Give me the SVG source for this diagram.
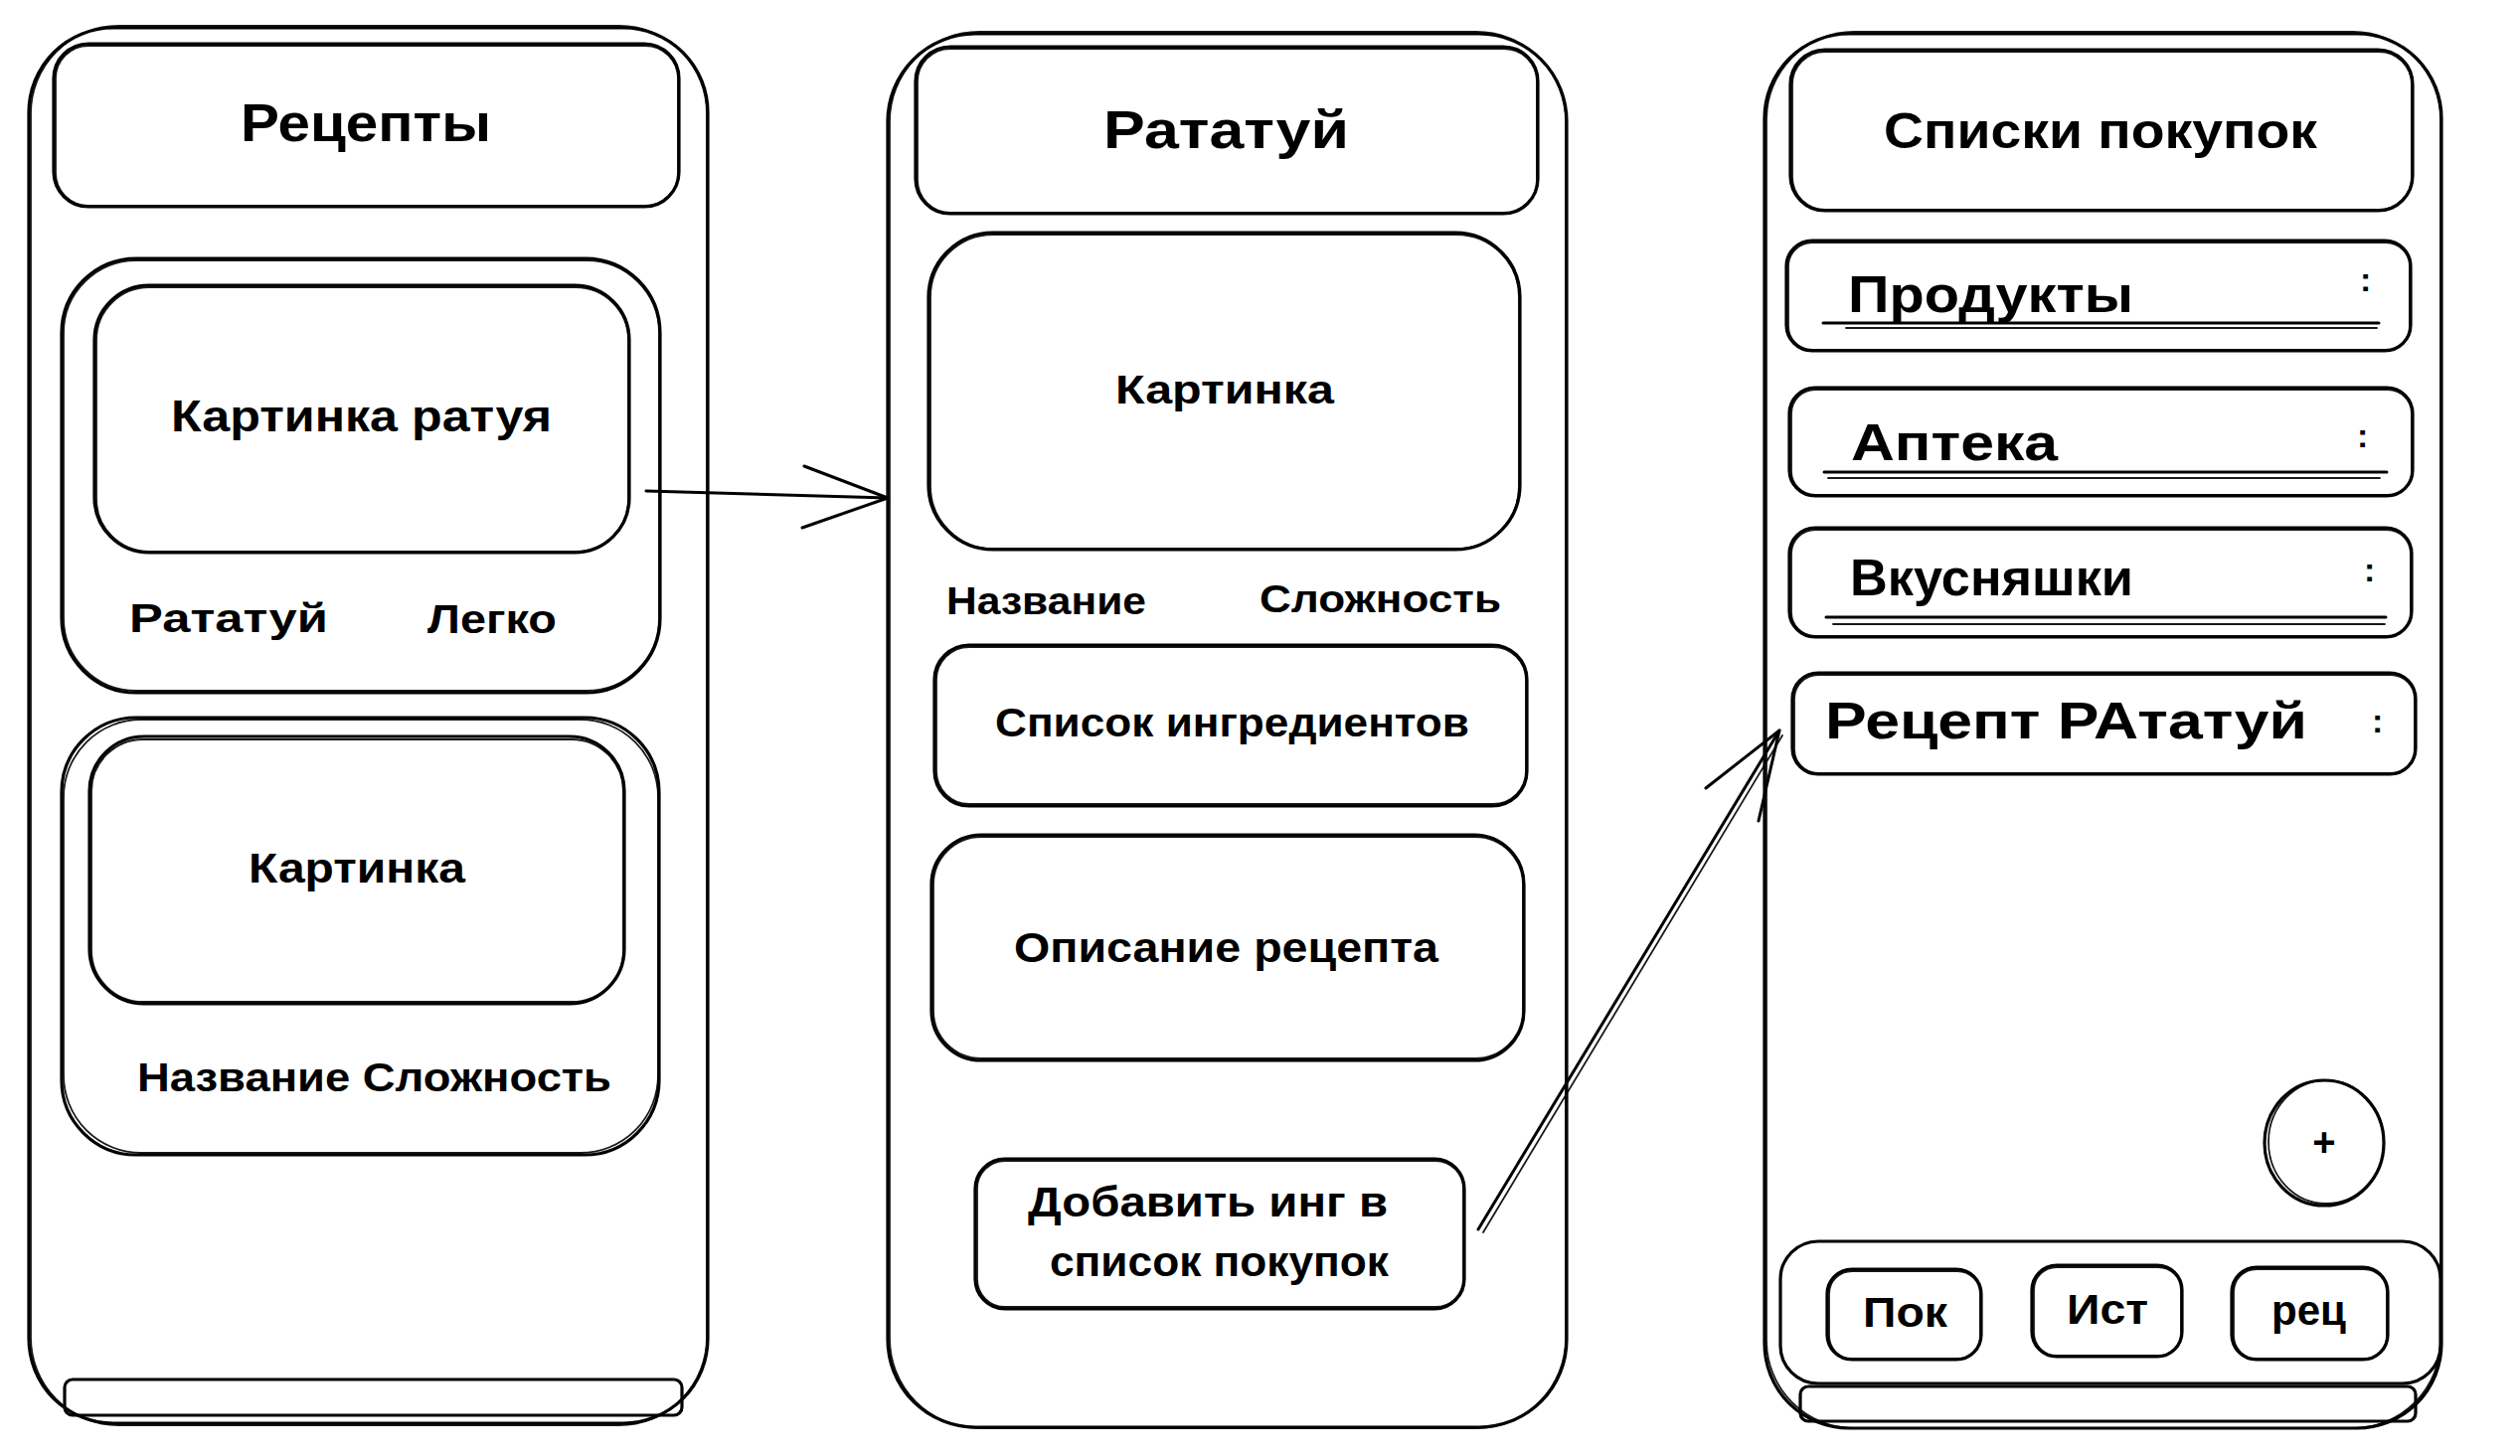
<svg xmlns="http://www.w3.org/2000/svg" xmlns:xlink="http://www.w3.org/1999/xlink" width="2535" height="1465" viewBox="0 0 2535 1465">
<defs>
<style>
.b{fill:none;stroke:#000;stroke-width:3.2;stroke-linejoin:round;stroke-linecap:round}
.b2{fill:none;stroke:#000;stroke-width:1.8;stroke-linejoin:round;stroke-linecap:round;opacity:0.9}
.t{font-family:"Liberation Sans","Noto Sans",sans-serif;fill:#000;font-weight:bold}
.c{fill:none;stroke:#000;stroke-width:3;stroke-linecap:round;stroke-linejoin:round}
</style>
</defs>
<rect width="2535" height="1465" fill="#fff"/>

<!-- Panel 1 -->
<g id="panel1">
<rect class="b" x="29" y="28" width="683" height="1404" rx="85"/>
<rect class="b2" x="31" y="26" width="680" height="1408" rx="88"/>
</g>
<g id="p1-header">
<rect class="b" x="54" y="44" width="629" height="164" rx="35"/>
<rect class="b2" x="56" y="46" width="626" height="161" rx="33"/>
<text class="t" x="242" y="142" font-size="54" textLength="252" lengthAdjust="spacingAndGlyphs">Рецепты</text>
</g>
<g id="p1-card1">
<rect class="b" x="62" y="260" width="602" height="437" rx="75"/>
<rect class="b2" x="64" y="262" width="599" height="433" rx="73"/>
</g>
<g id="p1-card1-image">
<rect class="b" x="95" y="287" width="538" height="269" rx="55"/>
<rect class="b2" x="97" y="289" width="535" height="266" rx="53"/>
<text class="t" x="172" y="434" font-size="44" textLength="383" lengthAdjust="spacingAndGlyphs">Картинка ратуя</text>
</g>
<g id="p1-card1-labels">
<text class="t" x="130" y="636" font-size="40" textLength="200" lengthAdjust="spacingAndGlyphs">Рататуй</text>
<text class="t" x="430" y="637" font-size="40" textLength="130" lengthAdjust="spacingAndGlyphs">Легко</text>
</g>
<g id="p1-card2">
<rect class="b" x="62" y="722" width="601" height="440" rx="75"/>
<rect class="b2" x="64" y="724" width="598" height="436" rx="78"/>
<text class="t" x="138" y="1098" font-size="40" textLength="477" lengthAdjust="spacingAndGlyphs">Название Сложность</text>
</g>
<g id="p1-card2-image">
<rect class="b" x="90" y="741" width="538" height="269" rx="55"/>
<rect class="b2" x="92" y="744" width="535" height="264" rx="52"/>
<text class="t" x="250" y="888" font-size="42" textLength="218" lengthAdjust="spacingAndGlyphs">Картинка</text>
</g>
<g id="p1-bottombar">
<rect class="b" x="65" y="1388" width="621" height="36" rx="8"/>
</g>

<!-- Panel 2 -->
<g id="panel2">
<rect class="b" x="893" y="34" width="683" height="1402" rx="88"/>
<rect class="b2" x="895" y="32" width="680" height="1405" rx="90"/>
</g>
<g id="p2-header">
<rect class="b" x="921" y="47" width="626" height="168" rx="35"/>
<rect class="b2" x="923" y="49" width="623" height="165" rx="33"/>
<text class="t" x="1110" y="149" font-size="54" textLength="247" lengthAdjust="spacingAndGlyphs">Рататуй</text>
</g>
<g id="p2-image">
<rect class="b" x="934" y="234" width="595" height="319" rx="65"/>
<rect class="b2" x="936" y="236" width="592" height="316" rx="63"/>
<text class="t" x="1122" y="406" font-size="40" textLength="220" lengthAdjust="spacingAndGlyphs">Картинка</text>
</g>
<g id="p2-labels">
<text class="t" x="952" y="618" font-size="38" textLength="201" lengthAdjust="spacingAndGlyphs">Название</text>
<text class="t" x="1267" y="616" font-size="38" textLength="243" lengthAdjust="spacingAndGlyphs">Сложность</text>
</g>
<g id="p2-ingredients">
<rect class="b" x="940" y="649" width="596" height="162" rx="35"/>
<rect class="b2" x="942" y="651" width="593" height="158" rx="33"/>
<text class="t" x="1001" y="741" font-size="40" textLength="477" lengthAdjust="spacingAndGlyphs">Список ингредиентов</text>
</g>
<g id="p2-description">
<rect class="b" x="937" y="840" width="596" height="227" rx="50"/>
<rect class="b2" x="939" y="842" width="593" height="223" rx="48"/>
<text class="t" x="1020" y="968" font-size="42" textLength="427" lengthAdjust="spacingAndGlyphs">Описание рецепта</text>
</g>
<g id="p2-add-button">
<rect class="b" x="981" y="1166" width="492" height="151" rx="30"/>
<rect class="b2" x="983" y="1168" width="489" height="147" rx="28"/>
<text class="t" x="1034" y="1224" font-size="42" textLength="362" lengthAdjust="spacingAndGlyphs">Добавить инг в</text>
<text class="t" x="1056" y="1284" font-size="42" textLength="341" lengthAdjust="spacingAndGlyphs">список покупок</text>
</g>

<!-- Panel 3 -->
<g id="panel3">
<rect class="b" x="1775" y="34" width="681" height="1403" rx="85"/>
<rect class="b2" x="1777" y="32" width="678" height="1405" rx="88"/>
</g>
<g id="p3-header">
<rect class="b" x="1801" y="50" width="626" height="162" rx="35"/>
<rect class="b2" x="1803" y="52" width="623" height="159" rx="33"/>
<text class="t" x="1895" y="149" font-size="50" textLength="436" lengthAdjust="spacingAndGlyphs">Списки покупок</text>
</g>
<g id="p3-row-products">
<rect class="b" x="1797" y="242" width="628" height="111" rx="26"/>
<rect class="b2" x="1799" y="244" width="625" height="108" rx="24"/>
<text class="t" x="1859" y="314" font-size="52" textLength="287" lengthAdjust="spacingAndGlyphs">Продукты</text>
<line class="c" x1="1834" y1="325" x2="2393" y2="325"/>
<line class="b2" x1="1857" y1="330" x2="2391" y2="330"/>
<text class="t" x="2374" y="293" font-size="34">:</text>
</g>
<g id="p3-row-pharmacy">
<rect class="b" x="1800" y="390" width="627" height="109" rx="26"/>
<rect class="b2" x="1802" y="392" width="624" height="106" rx="24"/>
<text class="t" x="1862" y="463" font-size="52" textLength="208" lengthAdjust="spacingAndGlyphs">Аптека</text>
<line class="c" x1="1835" y1="475" x2="2401" y2="475"/>
<line class="b2" x1="1839" y1="481" x2="2394" y2="481"/>
<text class="t" x="2371" y="450" font-size="34">:</text>
</g>
<g id="p3-row-treats">
<rect class="b" x="1800" y="531" width="626" height="110" rx="26"/>
<rect class="b2" x="1802" y="533" width="623" height="107" rx="24"/>
<text class="t" x="1861" y="599" font-size="52" textLength="285" lengthAdjust="spacingAndGlyphs">Вкусняшки</text>
<line class="c" x1="1837" y1="621" x2="2400" y2="621"/>
<line class="b2" x1="1844" y1="628" x2="2399" y2="628"/>
<text class="t" x="2378" y="585" font-size="34">:</text>
</g>
<g id="p3-row-recipe">
<rect class="b" x="1803" y="677" width="627" height="102" rx="26"/>
<rect class="b2" x="1805" y="679" width="624" height="99" rx="24"/>
<text class="t" x="1836" y="743" font-size="52" textLength="485" lengthAdjust="spacingAndGlyphs">Рецепт РАтатуй</text>
<text class="t" x="2386" y="737" font-size="34">:</text>
</g>
<g id="p3-add">
<ellipse class="b" cx="2338" cy="1150" rx="60" ry="63"/>
<ellipse class="b2" cx="2340" cy="1149" rx="58" ry="62"/>
<text class="t" x="2338" y="1163" font-size="40" text-anchor="middle">+</text>
</g>
<g id="p3-tabbar">
<rect class="b" x="1791" y="1249" width="664" height="143" rx="38"/>
</g>
<g id="p3-tab-pok">
<rect class="b" x="1838" y="1277" width="155" height="91" rx="25"/>
<rect class="b2" x="1840" y="1279" width="152" height="88" rx="23"/>
<text class="t" x="1874" y="1335" font-size="42" textLength="85" lengthAdjust="spacingAndGlyphs">Пок</text>
</g>
<g id="p3-tab-ist">
<rect class="b" x="2044" y="1273" width="151" height="92" rx="25"/>
<rect class="b2" x="2046" y="1275" width="148" height="89" rx="23"/>
<text class="t" x="2079" y="1332" font-size="42" textLength="82" lengthAdjust="spacingAndGlyphs">Ист</text>
</g>
<g id="p3-tab-rec">
<rect class="b" x="2245" y="1275" width="157" height="93" rx="25"/>
<rect class="b2" x="2247" y="1277" width="154" height="90" rx="23"/>
<text class="t" x="2285" y="1333" font-size="42" textLength="75" lengthAdjust="spacingAndGlyphs">рец</text>
</g>
<g id="p3-bottombar">
<rect class="b" x="1811" y="1395" width="619" height="35" rx="8"/>
</g>

<!-- Connectors -->
<g id="connectors">
<path class="c" d="M650 494 L893 501"/>
<path class="c" d="M809 469 L893 501 L807 531"/>
<path class="c" d="M1487 1237 L1790 735"/>
<path class="b2" d="M1492 1240 L1793 740"/>
<path class="c" d="M1716 793 L1790 735 L1769 826"/>
</g>
</svg>
